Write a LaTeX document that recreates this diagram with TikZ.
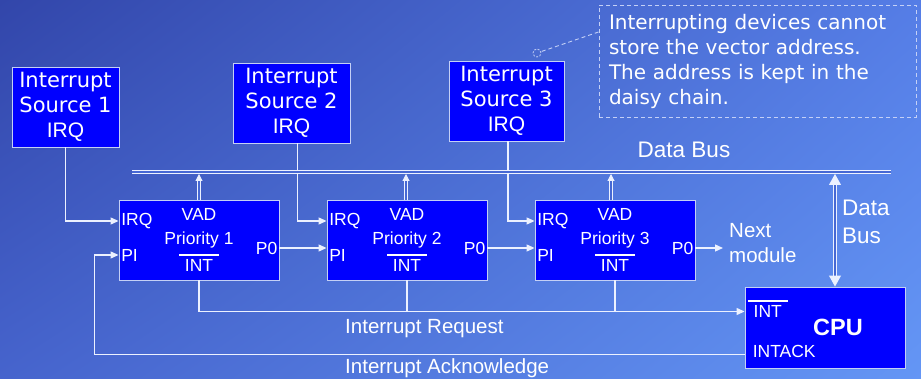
\documentclass[tikz,border=0pt]{standalone}
\usepackage{fontspec}
\setmainfont{Liberation Sans}
\newfontfamily\comic{DejaVu Sans}
\usepackage{tikz}
\usetikzlibrary{arrows.meta, positioning, calc, shadings}
\tikzset{
  node distance=208pt,
  every node/.style={align=center, text=white, inner sep=0pt}
}
\definecolor{bgtl}{RGB}{50,70,170}
\definecolor{bgtr}{RGB}{85,125,230}
\definecolor{bgbl}{RGB}{70,100,205}
\definecolor{bgbr}{RGB}{100,150,245}
\definecolor{boxblue}{RGB}{0,0,255}
\definecolor{rim}{RGB}{196,208,246}
\definecolor{wirec}{RGB}{236,241,255}
\definecolor{busgap}{RGB}{70,104,212}
\newcommand{\intbar}{\makebox[40pt]{\rlap{\smash{\rule[16pt]{40pt}{2pt}}}\hfill INT\hfill}}

\begin{document}
\begin{tikzpicture}[x=1pt, y=-1pt]
\tikzstyle{source}=[rectangle, draw=rim, fill=boxblue, line width=0.9pt,
  minimum height=80pt, font=\fontsize{21}{25}\selectfont]
\tikzstyle{module}=[rectangle, draw=rim, fill=boxblue, line width=0.9pt,
  minimum width=160pt, minimum height=80pt, font=\fontsize{17.5}{24}\selectfont]
\tikzstyle{port}=[font=\fontsize{17.5}{21}\selectfont]
\tikzstyle{caption}=[font=\fontsize{20.5}{25}\selectfont]
\tikzstyle{wire}=[draw=wirec, line width=1.3pt, >={Triangle[length=8pt, width=7pt]}]
\tikzstyle{bus}=[draw=wirec, double=busgap, line width=1pt, double distance=1.6pt,
  >={Triangle[length=7pt, width=7pt]}]
\tikzstyle{note}=[rectangle, draw=rim, line width=0.9pt, dash pattern=on 4pt off 3pt,
  minimum width=317pt, minimum height=112pt, text width=297pt, align=left,
  font=\comic\fontsize{20}{25}\selectfont]
\tikzstyle{tipring}=[circle, draw=rim, line width=0.8pt, dash pattern=on 2pt off 1.5pt,
  minimum size=8pt]
\tikzstyle{callout}=[draw=rim, line width=0.9pt, dash pattern=on 4pt off 3pt]

% background
\useasboundingbox (0,0) rectangle (921,379);
\shade[upper left=bgtl, upper right=bgtr, lower left=bgbl, lower right=bgbr]
  (0,0) rectangle (921,379);

% interrupt sources
\node[source, minimum width=107pt] (src1) at (65.5,107)
  {{\comic Interrupt}\\{\comic Source 1}\\IRQ};
\node[source, minimum width=117pt] (src2) at (291.5,103)
  {{\comic Interrupt}\\{\comic Source 2}\\IRQ};
\node[source, minimum width=115pt] (src3) at (506.5,101)
  {{\comic Interrupt}\\{\comic Source 3}\\IRQ};

% daisy chain
\node[module] (mod1) at (199,240) {VAD\\Priority 1\\[3pt]\intbar};
\node[module, right of=mod1] (mod2) {VAD\\Priority 2\\[3pt]\intbar};
\node[module, right of=mod2] (mod3) {VAD\\Priority 3\\[3pt]\intbar};

\node[port, anchor=west] (irq1) at ([xshift=2.5pt, yshift=19pt]mod1.west) {IRQ};
\node[port, anchor=west] (pi1) at ([xshift=2.5pt, yshift=-15pt]mod1.west) {PI};
\node[port, anchor=east] (po1) at ([xshift=-2pt, yshift=-8pt]mod1.east) {P0};
\node[port, anchor=west] (irq2) at ([xshift=2.5pt, yshift=19pt]mod2.west) {IRQ};
\node[port, anchor=west] (pi2) at ([xshift=2.5pt, yshift=-15pt]mod2.west) {PI};
\node[port, anchor=east] (po2) at ([xshift=-2pt, yshift=-8pt]mod2.east) {P0};
\node[port, anchor=west] (irq3) at ([xshift=2.5pt, yshift=19pt]mod3.west) {IRQ};
\node[port, anchor=west] (pi3) at ([xshift=2.5pt, yshift=-15pt]mod3.west) {PI};
\node[port, anchor=east] (po3) at ([xshift=-2pt, yshift=-8pt]mod3.east) {P0};

\node[caption, anchor=west, align=left] (next) at (729,243) {Next\\module};

% CPU
\node[module, minimum height=81pt] (cpu) at (825,327.5) {};
\node[port, anchor=west] (cpuint) at ([xshift=3pt, yshift=16pt]cpu.west) {\intbar};
\node[port, anchor=west] (intack) at ([xshift=8pt, yshift=-24pt]cpu.west) {INTACK};
\node[font=\bfseries\fontsize{23.5}{28}\selectfont] (cpulbl) at ([xshift=13pt]cpu.center) {CPU};

% IRQ lines
\draw[wire, ->] (src1.south) |- (irq1 -| mod1.west);
\draw[wire, ->] ([xshift=6pt]src2.south) |- (irq2 -| mod2.west);
\draw[wire, ->] ([xshift=1.5pt]src3.south) |- (irq3 -| mod3.west);

% priority chain
\draw[wire, ->] (po1 -| mod1.east) -- (po1 -| mod2.west);
\draw[wire, ->] (po2 -| mod2.east) -- (po2 -| mod3.west);
\draw[wire, ->, shorten >=6pt] (po3 -| mod3.east) -- (po3 -| next.west);

% interrupt request / acknowledge
\draw[wire, ->] (mod1.south) |- (cpuint -| cpu.west);
\draw[wire] (mod2.south) -- (mod2.south |- cpuint);
\draw[wire] (mod3.south) -- (mod3.south |- cpuint);
\draw[wire, ->] ([yshift=-27pt]cpu.west) -| ([xshift=-24pt]pi1 -| mod1.west)
  -- (pi1 -| mod1.west);
\node[caption, anchor=base west] (reqlbl) at (345,334) {Interrupt Request};
\node[caption, anchor=base west] (acklbl) at (345,373.3) {Interrupt Acknowledge};

% data bus
\coordinate (busl) at (132,172);
\coordinate (busr) at (891,172);
\draw[bus] (busl) -- (busr);
\node[font=\fontsize{22.5}{27}\selectfont, anchor=base] (buslbl) at (684,157.3) {Data Bus};
\draw[bus, ->, shorten >=2pt] (mod1.north) -- (mod1.north |- busl);
\draw[bus, ->, shorten >=2pt] ([xshift=-1pt]mod2.north) -- ([xshift=-1pt]mod2.north |- busl);
\draw[bus, ->, shorten >=2pt] ([xshift=-4pt]mod3.north) -- ([xshift=-4pt]mod3.north |- busl);
\draw[bus, <->, >={Triangle[length=11pt, width=12pt]}, double distance=2.2pt, shorten <=2pt]
  ([xshift=10pt]cpu.north |- busl) -- ([xshift=10pt]cpu.north);
\node[font=\fontsize{22.5}{28}\selectfont, anchor=west, align=left] (busv) at (842,222) {Data\\Bus};

% note
\node[note] (note) at (757.5,61) {Interrupting devices cannot\\store the vector address.\\The address is kept in the\\daisy chain.};
\node[tipring] (tip) at (537,53) {};
\draw[callout] ([yshift=29pt]note.west) -- (tip);

\end{tikzpicture}
\end{document}
